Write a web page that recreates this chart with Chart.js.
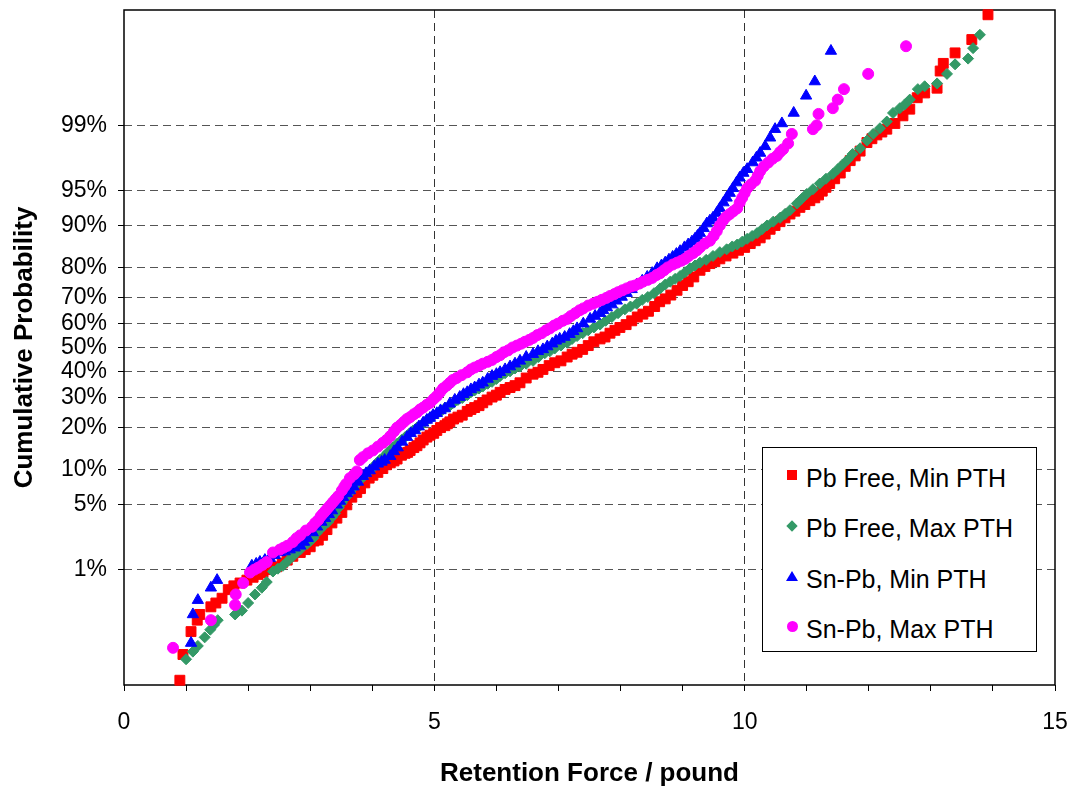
<!DOCTYPE html>
<html>
<head>
<meta charset="utf-8">
<script src="https://cdn.jsdelivr.net/npm/chart.js@4.4.1/dist/chart.umd.min.js"></script>
<style>
  body { margin: 0; background: #fff; }
  #wrap { position: relative; width: 1072px; height: 789px; }
  #legend {
    position: absolute; left: 762px; top: 447px; width: 273px; height: 203px;
    border: 1px solid #000; background: #fff;
    font-family: 'Liberation Sans', Arial, sans-serif; font-size: 25px; color: #000;
  }
  .row { position: absolute; left: 0; height: 30px; }
  .mk { position: absolute; left: 24px; }
  .txt { position: absolute; left: 43px; white-space: nowrap; line-height: 30px; }
</style>
</head>
<body>
<div id="wrap">
  <canvas id="probChart" width="1072" height="789"></canvas>
  <div id="legend"></div>
</div>
<script>
// cumulative probability is stored as a normal score (probit), the axis is linear in it
const seriesNames = ['Pb Free, Min PTH', 'Pb Free, Max PTH', 'Sn-Pb, Min PTH', 'Sn-Pb, Max PTH'];

const pbFreeMin = [
  [0.90,-3.49],[0.95,-3.22],[1.08,-2.98],[1.18,-2.86],[1.22,-2.80],[1.40,-2.72],[1.48,-2.68],[1.58,-2.63],
  [1.68,-2.54],[1.77,-2.50],[1.87,-2.47],[1.98,-2.44],[2.08,-2.41],[2.16,-2.38],[2.24,-2.36],[2.35,-2.33],
  [2.46,-2.30],[2.55,-2.26],[2.63,-2.23],[2.72,-2.19],[2.84,-2.15],[2.92,-2.12],[3.00,-2.09],[3.06,-2.03],
  [3.13,-2.02],[3.20,-1.97],[3.27,-1.91],[3.35,-1.84],[3.43,-1.79],[3.51,-1.73],[3.59,-1.65],[3.67,-1.57],
  [3.75,-1.52],[3.81,-1.48],[3.88,-1.42],[3.95,-1.37],[4.01,-1.34],[4.09,-1.31],[4.17,-1.27],[4.23,-1.23],
  [4.29,-1.21],[4.35,-1.19],[4.40,-1.17],[4.47,-1.13],[4.53,-1.11],[4.57,-1.10],[4.61,-1.08],[4.67,-1.05],
  [4.72,-1.03],[4.77,-1.00],[4.82,-0.97],[4.88,-0.94],[4.93,-0.92],[4.99,-0.90],[5.04,-0.87],[5.10,-0.84],
  [5.17,-0.82],[5.21,-0.80],[5.25,-0.78],[5.31,-0.75],[5.38,-0.73],[5.45,-0.71],[5.53,-0.67],[5.59,-0.65],
  [5.65,-0.63],[5.72,-0.61],[5.78,-0.58],[5.85,-0.55],[5.93,-0.52],[6.00,-0.50],[6.06,-0.47],[6.14,-0.44],
  [6.22,-0.42],[6.30,-0.40],[6.38,-0.37],[6.48,-0.32],[6.59,-0.28],[6.67,-0.26],[6.75,-0.23],[6.85,-0.19],
  [6.94,-0.16],[7.04,-0.14],[7.14,-0.10],[7.22,-0.07],[7.30,-0.05],[7.39,-0.02],[7.48,0.02],[7.57,0.06],
  [7.67,0.09],[7.75,0.11],[7.83,0.15],[7.91,0.18],[7.99,0.21],[8.09,0.24],[8.18,0.28],[8.27,0.32],
  [8.36,0.35],[8.45,0.38],[8.55,0.43],[8.63,0.48],[8.72,0.51],[8.81,0.55],[8.91,0.60],[9.00,0.65],
  [9.09,0.69],[9.18,0.74],[9.28,0.81],[9.36,0.85],[9.44,0.88],[9.52,0.90],[9.60,0.93],[9.70,0.96],
  [9.81,0.99],[9.90,1.02],[10.00,1.05],[10.09,1.09],[10.17,1.12],[10.25,1.15],[10.33,1.19],[10.41,1.24],
  [10.49,1.28],[10.57,1.32],[10.65,1.36],[10.73,1.40],[10.81,1.43],[10.89,1.47],[10.97,1.50],[11.05,1.54],
  [11.13,1.57],[11.19,1.60],[11.25,1.64],[11.31,1.68],[11.37,1.72],[11.45,1.77],[11.54,1.83],[11.62,1.90],
  [11.70,1.96],[11.78,2.01],[11.86,2.06],[11.97,2.15],[12.05,2.19],[12.13,2.23],[12.21,2.26],[12.29,2.29],
  [12.42,2.35],[12.55,2.43],[12.66,2.50],[12.78,2.62],[12.90,2.67],[13.10,2.72],[13.15,2.90],[13.20,2.98],
  [13.39,3.09],[13.66,3.23],[13.92,3.49]
];

const pbFreeMax = [
  [1.00,-3.27],[1.11,-3.19],[1.19,-3.13],[1.30,-3.04],[1.39,-2.96],[1.45,-2.91],[1.51,-2.86],[1.79,-2.80],
  [1.90,-2.76],[2.00,-2.68],[2.11,-2.59],[2.22,-2.52],[2.30,-2.46],[2.40,-2.35],[2.48,-2.32],[2.56,-2.29],
  [2.64,-2.24],[2.72,-2.19],[2.78,-2.15],[2.84,-2.12],[2.95,-2.06],[3.00,-2.03],[3.05,-2.00],[3.10,-1.95],
  [3.16,-1.91],[3.22,-1.87],[3.29,-1.83],[3.35,-1.78],[3.40,-1.74],[3.46,-1.68],[3.51,-1.63],[3.58,-1.57],
  [3.64,-1.52],[3.70,-1.47],[3.75,-1.43],[3.82,-1.38],[3.88,-1.34],[3.94,-1.30],[4.00,-1.27],[4.06,-1.22],
  [4.12,-1.18],[4.19,-1.14],[4.25,-1.10],[4.33,-1.05],[4.40,-1.01],[4.47,-0.97],[4.53,-0.94],[4.60,-0.90],
  [4.66,-0.87],[4.72,-0.84],[4.77,-0.82],[4.83,-0.79],[4.88,-0.76],[4.93,-0.74],[4.98,-0.72],[5.05,-0.69],
  [5.12,-0.66],[5.18,-0.63],[5.25,-0.61],[5.31,-0.58],[5.38,-0.55],[5.45,-0.53],[5.53,-0.50],[5.59,-0.47],
  [5.65,-0.45],[5.72,-0.43],[5.78,-0.41],[5.86,-0.38],[5.93,-0.36],[6.00,-0.33],[6.06,-0.30],[6.14,-0.27],
  [6.22,-0.25],[6.30,-0.22],[6.38,-0.20],[6.48,-0.17],[6.59,-0.14],[6.68,-0.10],[6.78,-0.06],[6.86,-0.04],
  [6.94,-0.01],[7.04,0.02],[7.14,0.05],[7.22,0.09],[7.30,0.12],[7.39,0.15],[7.48,0.18],[7.57,0.21],
  [7.67,0.24],[7.76,0.28],[7.86,0.32],[7.96,0.36],[8.07,0.40],[8.16,0.43],[8.26,0.46],[8.35,0.50],
  [8.44,0.53],[8.54,0.57],[8.64,0.62],[8.72,0.66],[8.80,0.69],[8.88,0.72],[8.96,0.75],[9.04,0.79],
  [9.12,0.83],[9.20,0.86],[9.28,0.89],[9.38,0.92],[9.49,0.96],[9.60,1.00],[9.71,1.03],[9.80,1.06],
  [9.88,1.08],[9.96,1.11],[10.04,1.14],[10.12,1.17],[10.20,1.20],[10.28,1.24],[10.36,1.28],[10.46,1.32],
  [10.57,1.36],[10.65,1.40],[10.73,1.44],[10.84,1.51],[10.92,1.56],[11.00,1.61],[11.10,1.66],[11.21,1.72],
  [11.31,1.77],[11.42,1.82],[11.50,1.87],[11.58,1.92],[11.66,1.97],[11.74,2.03],[11.86,2.09],[11.97,2.17],
  [12.07,2.24],[12.18,2.30],[12.29,2.37],[12.39,2.46],[12.50,2.51],[12.58,2.55],[12.66,2.60],[12.79,2.71],
  [12.90,2.74],[13.10,2.77],[13.26,2.87],[13.39,2.97],[13.60,3.03],[13.68,3.14],[13.79,3.28]
];

const snPbMin = [
  [1.08,-3.10],[1.11,-2.80],[1.19,-2.65],[1.40,-2.52],[1.50,-2.44],[2.06,-2.29],[2.13,-2.27],[2.19,-2.25],
  [2.27,-2.23],[2.35,-2.21],[2.43,-2.18],[2.51,-2.15],[2.59,-2.14],[2.67,-2.12],[2.75,-2.10],[2.84,-2.08],
  [2.90,-2.04],[2.96,-2.00],[3.04,-1.94],[3.11,-1.88],[3.18,-1.83],[3.24,-1.79],[3.30,-1.75],[3.35,-1.71],
  [3.43,-1.65],[3.48,-1.61],[3.53,-1.57],[3.59,-1.53],[3.64,-1.50],[3.70,-1.46],[3.77,-1.41],[3.85,-1.35],
  [3.90,-1.32],[3.96,-1.29],[4.03,-1.25],[4.09,-1.22],[4.15,-1.20],[4.20,-1.18],[4.29,-1.14],[4.35,-1.09],
  [4.41,-1.05],[4.48,-0.99],[4.56,-0.94],[4.62,-0.90],[4.69,-0.87],[4.75,-0.83],[4.82,-0.79],[4.88,-0.76],
  [4.93,-0.74],[4.98,-0.71],[5.04,-0.69],[5.10,-0.66],[5.17,-0.64],[5.25,-0.59],[5.33,-0.55],[5.41,-0.52],
  [5.47,-0.49],[5.53,-0.47],[5.59,-0.44],[5.65,-0.42],[5.72,-0.39],[5.78,-0.37],[5.86,-0.33],[5.93,-0.30],
  [6.00,-0.28],[6.06,-0.26],[6.14,-0.23],[6.22,-0.20],[6.30,-0.17],[6.38,-0.14],[6.48,-0.10],[6.59,-0.07],
  [6.67,-0.04],[6.75,-0.02],[6.82,0.01],[6.90,0.04],[6.96,0.07],[7.02,0.09],[7.10,0.11],[7.18,0.14],
  [7.24,0.17],[7.30,0.20],[7.40,0.25],[7.51,0.30],[7.59,0.33],[7.67,0.36],[7.72,0.39],[7.78,0.42],
  [7.86,0.45],[7.94,0.49],[8.02,0.53],[8.10,0.57],[8.18,0.61],[8.26,0.66],[8.35,0.70],[8.43,0.74],
  [8.51,0.78],[8.59,0.83],[8.66,0.86],[8.72,0.89],[8.78,0.92],[8.84,0.95],[8.90,0.98],[8.96,1.01],
  [9.03,1.05],[9.09,1.08],[9.15,1.11],[9.20,1.14],[9.24,1.17],[9.28,1.20],[9.34,1.25],[9.39,1.30],
  [9.44,1.33],[9.49,1.36],[9.55,1.41],[9.60,1.46],[9.66,1.52],[9.71,1.57],[9.76,1.62],[9.81,1.67],
  [9.87,1.73],[9.92,1.78],[9.98,1.83],[10.04,1.87],[10.13,1.94],[10.19,1.99],[10.25,2.04],[10.33,2.11],
  [10.41,2.20],[10.49,2.29],[10.60,2.35],[10.79,2.46],[10.99,2.64],[11.13,2.79],[11.39,3.11]
];

const snPbMax = [
  [0.79,-3.15],[1.40,-2.86],[1.79,-2.70],[1.80,-2.59],[1.92,-2.47],[2.03,-2.36],[2.10,-2.33],[2.16,-2.31],
  [2.23,-2.28],[2.30,-2.25],[2.40,-2.15],[2.51,-2.12],[2.57,-2.10],[2.63,-2.08],[2.72,-2.04],[2.78,-2.00],
  [2.84,-1.97],[2.93,-1.92],[3.03,-1.88],[3.08,-1.84],[3.13,-1.81],[3.17,-1.77],[3.21,-1.74],[3.25,-1.71],
  [3.29,-1.68],[3.33,-1.65],[3.37,-1.62],[3.41,-1.59],[3.45,-1.56],[3.51,-1.50],[3.55,-1.46],[3.58,-1.43],
  [3.64,-1.37],[3.71,-1.33],[3.75,-1.30],[3.80,-1.18],[3.85,-1.15],[3.93,-1.11],[4.01,-1.08],[4.09,-1.04],
  [4.17,-1.00],[4.23,-0.97],[4.29,-0.93],[4.35,-0.88],[4.40,-0.84],[4.46,-0.81],[4.51,-0.78],[4.56,-0.75],
  [4.61,-0.73],[4.67,-0.70],[4.72,-0.68],[4.77,-0.65],[4.82,-0.63],[4.88,-0.60],[4.93,-0.58],[4.99,-0.54],
  [5.04,-0.51],[5.09,-0.47],[5.14,-0.43],[5.20,-0.40],[5.25,-0.37],[5.30,-0.34],[5.36,-0.32],[5.44,-0.29],
  [5.53,-0.26],[5.59,-0.23],[5.65,-0.21],[5.72,-0.19],[5.78,-0.17],[5.86,-0.15],[5.93,-0.13],[6.00,-0.10],
  [6.06,-0.08],[6.12,-0.05],[6.19,-0.03],[6.26,0.00],[6.33,0.02],[6.40,0.04],[6.46,0.06],[6.53,0.08],
  [6.59,0.10],[6.66,0.13],[6.73,0.15],[6.80,0.18],[6.86,0.20],[6.93,0.23],[6.99,0.25],[7.07,0.28],
  [7.14,0.30],[7.20,0.33],[7.27,0.36],[7.34,0.39],[7.40,0.41],[7.48,0.44],[7.56,0.46],[7.63,0.48],
  [7.70,0.50],[7.77,0.52],[7.83,0.54],[7.90,0.56],[7.96,0.58],[8.03,0.60],[8.10,0.62],[8.17,0.64],
  [8.23,0.65],[8.30,0.67],[8.36,0.69],[8.44,0.71],[8.51,0.73],[8.58,0.76],[8.64,0.78],[8.70,0.81],
  [8.76,0.84],[8.84,0.87],[8.91,0.89],[8.98,0.91],[9.04,0.93],[9.10,0.96],[9.17,0.99],[9.23,1.02],
  [9.28,1.05],[9.36,1.09],[9.44,1.12],[9.50,1.17],[9.55,1.22],[9.60,1.28],[9.65,1.33],[9.70,1.37],
  [9.76,1.40],[9.82,1.43],[9.88,1.46],[9.92,1.52],[9.96,1.57],[10.00,1.62],[10.04,1.67],[10.10,1.71],
  [10.17,1.75],[10.21,1.80],[10.25,1.85],[10.31,1.90],[10.38,1.94],[10.45,1.98],[10.52,2.01],[10.57,2.05],
  [10.62,2.08],[10.70,2.14],[10.76,2.24],[11.10,2.29],[11.16,2.33],[11.19,2.45],[11.42,2.51],[11.50,2.60],
  [11.60,2.71],[11.99,2.87],[12.60,3.16]
];

// y ticks: probability labels and their normal scores
const probLabels = ['1%', '5%', '10%', '20%', '30%', '40%', '50%', '60%', '70%', '80%', '90%', '95%', '99%'];
const probTicks = [-2.3263, -1.6449, -1.2816, -0.8416, -0.5244, -0.2533, 0, 0.2533, 0.5244, 0.8416, 1.2816, 1.6449, 2.3263];
const forceTicks = [0, 1, 2, 3, 4, 5, 6, 7, 8, 9, 10, 11, 12, 13, 14, 15];

const colors = ['#ff0000', '#339966', '#0000ff', '#ff00ff'];
const shapes = ['rect', 'rectRot', 'triangle', 'circle'];
const radii = [7, 5.5, 6.5, 5.5];
const allSeries = [pbFreeMin, pbFreeMax, snPbMin, snPbMax];
const FONT = "'Liberation Sans', Arial, sans-serif";

const datasets = allSeries.map((s, i) => ({
  label: seriesNames[i],
  data: s.map(p => ({ x: p[0], y: p[1] })),
  pointStyle: shapes[i],
  pointRadius: radii[i],
  pointHoverRadius: radii[i],
  backgroundColor: colors[i],
  borderColor: colors[i],
  borderWidth: 1,
  showLine: false,
  clip: false,
  order: 4 - i   // last series drawn on top
}));

const frame = {
  id: 'frame',
  beforeDatasetsDraw(chart) {
    const a = chart.chartArea, ctx = chart.ctx;
    ctx.save();
    ctx.strokeStyle = '#000';
    ctx.lineWidth = 1.5;
    ctx.strokeRect(a.left, a.top, a.right - a.left, a.bottom - a.top);
    ctx.restore();
  }
};

new Chart(document.getElementById('probChart'), {
  type: 'scatter',
  data: { datasets },
  options: {
    responsive: false,
    animation: false,
    layout: { padding: { top: 10, right: 17, bottom: 0, left: 0 } },
    plugins: { legend: { display: false }, tooltip: { enabled: false } },
    scales: {
      x: {
        type: 'linear', min: 0, max: 15,
        afterBuildTicks: s => { s.ticks = forceTicks.map(v => ({ value: v })); },
        afterFit: s => { s.height = 104; s.paddingLeft = 0; s.paddingRight = 0; },
        ticks: {
          autoSkip: false, maxRotation: 0, padding: 18, color: '#000',
          font: { family: FONT, size: 23 },
          callback: v => (v % 5 === 0 ? String(v) : '')
        },
        grid: {
          color: c => (c.tick && (c.tick.value === 5 || c.tick.value === 10)) ? '#333' : 'rgba(0,0,0,0)',
          tickColor: '#000', tickLength: 6, lineWidth: 1, borderDash: [8, 5]
        },
        border: { display: false, dash: [8, 5] },
        title: {
          display: true, text: 'Retention Force / pound', color: '#000',
          font: { family: FONT, size: 26, weight: 'bold' },
          padding: { top: 0, bottom: 0 }
        }
      },
      y: {
        type: 'linear', min: -3.54, max: 3.54,
        afterBuildTicks: s => { s.ticks = probTicks.map(v => ({ value: v })); },
        afterFit: s => { s.width = 124; s.paddingTop = 0; s.paddingBottom = 0; },
        ticks: {
          autoSkip: false, padding: 11, color: '#000',
          font: { family: FONT, size: 23 },
          callback: (v, i) => probLabels[i]
        },
        grid: { color: '#555', tickColor: '#000', tickLength: 6, lineWidth: 1, borderDash: [8, 5] },
        border: { display: false, dash: [8, 5] },
        title: {
          display: true, text: 'Cumulative Probability', color: '#000',
          font: { family: FONT, size: 26, weight: 'bold' },
          padding: { top: 9, bottom: 0 }
        }
      }
    }
  },
  plugins: [frame]
});

// legend box inside the plot area
const legend = document.getElementById('legend');
const markerCss = [
  'width:10px;height:10px;background:#ff0000;',
  'width:8px;height:8px;background:#339966;transform:rotate(45deg);margin-left:1px;',
  'width:0;height:0;border-left:6px solid transparent;border-right:6px solid transparent;border-bottom:10px solid #0000ff;margin-left:-1px;',
  'width:11px;height:11px;border-radius:50%;background:#ff00ff;'
];
const rowTops = [15, 65, 116, 166];
seriesNames.forEach((name, i) => {
  const row = document.createElement('div');
  row.className = 'row';
  row.style.top = rowTops[i] + 'px';
  row.style.width = '100%';
  row.innerHTML = '<span class="mk" style="top:' + (i === 1 ? 9 : 7) + 'px;' + markerCss[i] + '"></span>' +
    '<span class="txt">' + name + '</span>';
  legend.appendChild(row);
});
</script>
</body>
</html>
